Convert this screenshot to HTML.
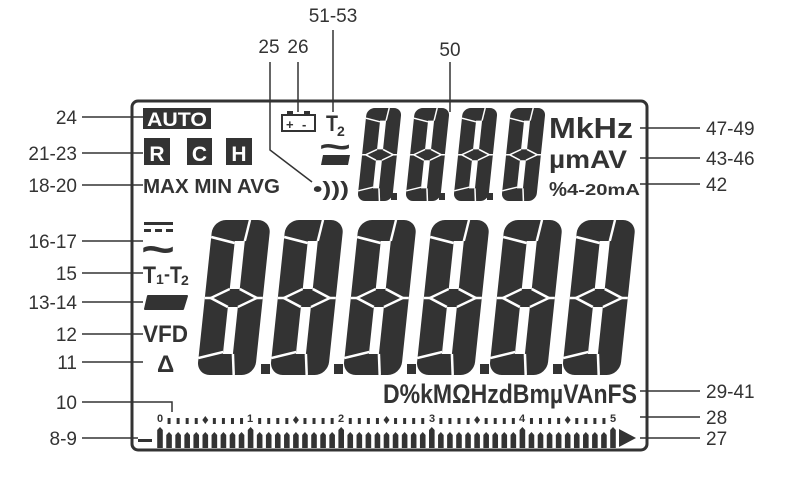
<!DOCTYPE html>
<html><head><meta charset="utf-8"><style>
html,body{margin:0;padding:0;background:#fff;}
svg{display:block;font-family:"Liberation Sans",sans-serif;}
.lb{font-size:19px;fill:#333;}
.b{font-weight:bold;fill:#333;}
</style></head><body>
<svg width="800" height="490" viewBox="0 0 800 490" xmlns="http://www.w3.org/2000/svg">
<defs>
<g id="dg">
<rect x="0" y="0" width="58" height="155" rx="13" fill="#333"/>
<rect x="24" y="21" width="10" height="48" fill="#fff"/>
<rect x="24" y="87" width="10" height="47" fill="#fff"/>
<g stroke="#fff" stroke-width="2.5" fill="none">
<path d="M24 23 L0 17"/><path d="M34 21 L37 0"/>
<path d="M24 69 L6 78 L24 87"/><path d="M34 69 L52 78 L34 87"/>
<path d="M6 78 L0 78"/><path d="M52 78 L58 78"/>
<path d="M24 132 L0 138"/><path d="M34 134 L37 155"/>
</g>
</g>
</defs>

<rect x="132" y="101" width="515" height="349" rx="6" fill="none" stroke="#333" stroke-width="3"/>

<g>
<use href="#dg" transform="translate(213,220) skewX(-6)"/>
<use href="#dg" transform="translate(286,220) skewX(-6)"/>
<use href="#dg" transform="translate(359,220) skewX(-6)"/>
<use href="#dg" transform="translate(432,220) skewX(-6)"/>
<use href="#dg" transform="translate(505,220) skewX(-6)"/>
<use href="#dg" transform="translate(578,220) skewX(-6)"/>
<g fill="#333">
<rect x="261" y="364" width="9" height="10"/>
<rect x="334" y="364" width="9" height="10"/>
<rect x="407" y="364" width="9" height="10"/>
<rect x="480" y="364" width="9" height="10"/>
<rect x="553" y="364" width="9" height="10"/>
</g>
</g>
<g>
<use href="#dg" transform="translate(367,108) skewX(-6) scale(0.6)"/>
<use href="#dg" transform="translate(415,108) skewX(-6) scale(0.6)"/>
<use href="#dg" transform="translate(463,108) skewX(-6) scale(0.6)"/>
<use href="#dg" transform="translate(511,108) skewX(-6) scale(0.6)"/>
<g fill="#333">
<rect x="391" y="193" width="6" height="7"/>
<rect x="439" y="193" width="6" height="7"/>
<rect x="487" y="193" width="6" height="7"/>
</g>
</g>

<rect x="143" y="108" width="68" height="21" fill="#333"/>
<text x="177" y="126" text-anchor="middle" font-size="19" font-weight="bold" fill="#fff" textLength="60" lengthAdjust="spacingAndGlyphs">AUTO</text>
<rect x="144" y="138" width="26" height="27" fill="#333"/>
<rect x="187" y="138" width="25" height="27" fill="#333"/>
<rect x="226" y="138" width="26" height="27" fill="#333"/>
<text x="157" y="161" text-anchor="middle" font-size="21" font-weight="bold" fill="#fff">R</text>
<text x="199.5" y="161" text-anchor="middle" font-size="21" font-weight="bold" fill="#fff">C</text>
<text x="239" y="161" text-anchor="middle" font-size="21" font-weight="bold" fill="#fff">H</text>
<text x="143" y="193" class="b" font-size="20" textLength="137" lengthAdjust="spacingAndGlyphs">MAX MIN AVG</text>

<rect x="282" y="115" width="33" height="16" fill="none" stroke="#333" stroke-width="2"/>
<rect x="287" y="111" width="6" height="4" fill="#333"/><rect x="304" y="111" width="6" height="4" fill="#333"/>
<text x="286" y="129" class="b" font-size="13">+</text><text x="302" y="129" class="b" font-size="13">-</text>
<text x="326" y="131" class="b" font-size="22" textLength="12" lengthAdjust="spacingAndGlyphs">T</text>
<text x="337" y="136" class="b" font-size="14">2</text>
<text x="319" y="158" class="b" font-size="34" textLength="32" lengthAdjust="spacingAndGlyphs">~</text>
<path d="M323 155 L350 155 L348 165 L321 165 Z" fill="#333"/>
<text x="313" y="196" class="b" font-size="20" textLength="36" lengthAdjust="spacingAndGlyphs">•)))</text>

<text x="549" y="138" class="b" font-size="29" textLength="84" lengthAdjust="spacingAndGlyphs">MkHz</text>
<text x="549" y="168" class="b" font-size="25" textLength="78" lengthAdjust="spacingAndGlyphs">µmAV</text>
<text x="549" y="196" class="b" font-size="20" textLength="18" lengthAdjust="spacingAndGlyphs">%</text>
<text x="567" y="195" class="b" font-size="16" textLength="73" lengthAdjust="spacingAndGlyphs">4-20mA</text>

<rect x="144" y="222" width="29" height="3" fill="#333"/>
<rect x="144" y="229" width="7" height="3" fill="#333"/><rect x="155" y="229" width="7" height="3" fill="#333"/><rect x="166" y="229" width="7" height="3" fill="#333"/>
<text x="141" y="264" class="b" font-size="44" textLength="34" lengthAdjust="spacingAndGlyphs">~</text>
<text x="143" y="283" class="b" font-size="24" textLength="13" lengthAdjust="spacingAndGlyphs">T</text>
<text x="156" y="284" class="b" font-size="14">1</text>
<text x="164" y="280" class="b" font-size="18">-</text>
<text x="170" y="283" class="b" font-size="24" textLength="12" lengthAdjust="spacingAndGlyphs">T</text>
<text x="181" y="285" class="b" font-size="14">2</text>
<path d="M148 296 L187 296 L183 309 L145 309 Z" fill="#333" stroke="#333" stroke-width="2" stroke-linejoin="round"/>
<text x="143" y="342" class="b" font-size="24" textLength="45" lengthAdjust="spacingAndGlyphs">VFD</text>
<text x="157" y="372" class="b" font-size="24">Δ</text>

<text x="383" y="403" class="b" font-size="27" textLength="254" lengthAdjust="spacingAndGlyphs">D%kMΩHzdBmµVAnFS</text>

<g id="bars" fill="#333"></g>
<g fill="#333" font-weight="bold" font-size="11">
<text x="157" y="422">0</text><text x="247" y="422">1</text><text x="338" y="422">2</text>
<text x="429" y="422">3</text><text x="519" y="422">4</text><text x="610" y="422">5</text>
</g>
<rect x="138" y="439" width="14" height="3" fill="#333"/>
<path d="M619 429 L636 438 L619 447 Z" fill="#333"/>

<g stroke="#333" stroke-width="1.5" fill="none">
<path d="M82 117 H143"/><path d="M82 153 H143"/><path d="M82 185 H143"/>
<path d="M82 241 H143"/><path d="M82 273 H143"/><path d="M82 302 H143"/>
<path d="M82 334 H143"/><path d="M82 362 H143"/>
<path d="M82 402 H172 V412"/><path d="M82 438 H138"/>
<path d="M640 128 H700"/><path d="M640 158 H700"/><path d="M640 184 H700"/>
<path d="M640 391 H700"/><path d="M640 417 H700"/><path d="M640 438 H700"/>
<path d="M298 62 V112"/><path d="M333 30 V112"/><path d="M450 62 V112"/>
<path d="M270 62 V150 L312 182"/>
</g>
<g class="lb">
<text x="77" y="124" text-anchor="end" class="lb">24</text>
<text x="77" y="160" text-anchor="end" class="lb">21-23</text>
<text x="77" y="192" text-anchor="end" class="lb">18-20</text>
<text x="77" y="248" text-anchor="end" class="lb">16-17</text>
<text x="77" y="280" text-anchor="end" class="lb">15</text>
<text x="77" y="309" text-anchor="end" class="lb">13-14</text>
<text x="77" y="341" text-anchor="end" class="lb">12</text>
<text x="77" y="369" text-anchor="end" class="lb">11</text>
<text x="77" y="409" text-anchor="end" class="lb">10</text>
<text x="77" y="445" text-anchor="end" class="lb">8-9</text>
<text x="706" y="135" class="lb">47-49</text>
<text x="706" y="165" class="lb">43-46</text>
<text x="706" y="191" class="lb">42</text>
<text x="706" y="398" class="lb">29-41</text>
<text x="706" y="424" class="lb">28</text>
<text x="706" y="445" class="lb">27</text>
<text x="333" y="22" text-anchor="middle" class="lb">51-53</text>
<text x="269" y="53" text-anchor="middle" class="lb">25</text>
<text x="298" y="53" text-anchor="middle" class="lb">26</text>
<text x="450" y="56" text-anchor="middle" class="lb">50</text>
</g>
</svg>
<script>
(function(){
var g=document.getElementById('bars'),s='';
for(var i=0;i<=50;i++){
 var x=160+i*9.06, top=(i%10==0)?427:432;
 s+='<path d="M'+(x-2.8)+' 448 V'+(top+3)+' L'+x+' '+top+' L'+(x+2.8)+' '+(top+3)+' V448 Z"/>';
}
for(var i=0;i<50;i++){
 var k=i%10; if(k==9) continue;
 var mx=160+(i+1)*9.06;
 if(k==4) s+='<path d="M'+mx+' 416 L'+(mx+3)+' 420 L'+mx+' 424 L'+(mx-3)+' 420 Z"/>';
 else s+='<rect x="'+(mx-1.5)+'" y="418" width="3" height="6"/>';
}
g.innerHTML=s;
})();
</script>
</body></html>
